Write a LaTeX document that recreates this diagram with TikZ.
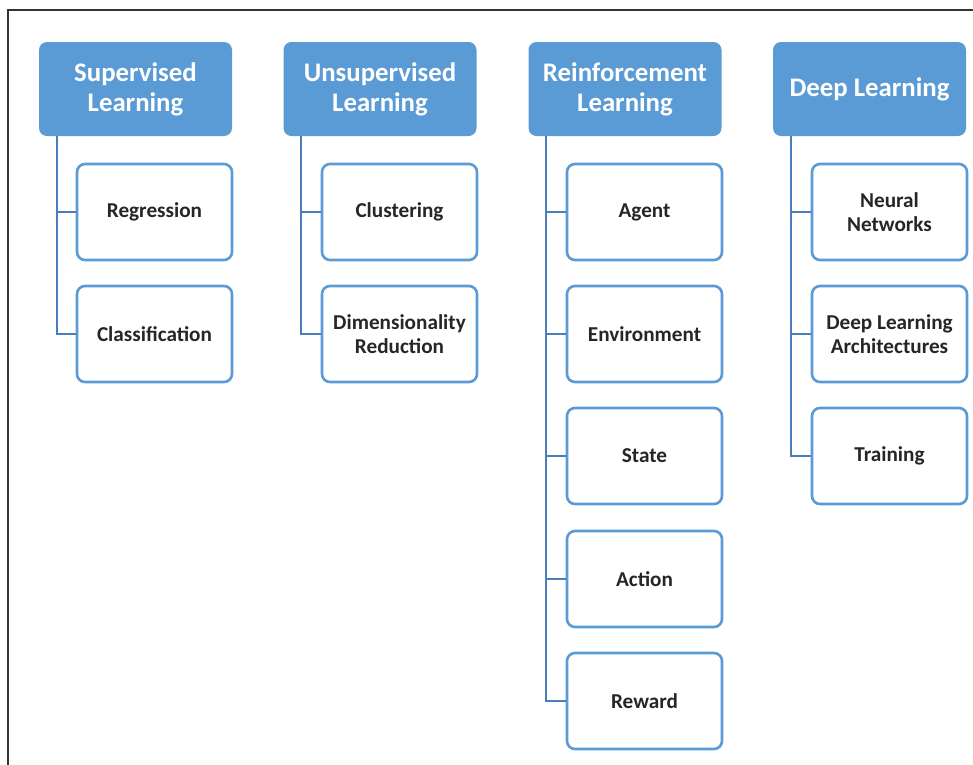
\documentclass[tikz,border=0pt]{standalone}
\usepackage{fontspec}
\setmainfont{Carlito}
\begin{document}
\begin{tikzpicture}[x=1pt,y=-1pt,
  hdr/.style={draw=none,fill=hblue,rounded corners=8pt,minimum width=193pt,minimum height=94pt,
    align=center,text=white,font=\fontsize{26.8}{30}\selectfont\bfseries,inner sep=0pt},
  child/.style={draw=hblue,line width=2.6pt,fill=white,rounded corners=8pt,minimum width=155pt,minimum height=96pt,
    align=center,text=txt,font=\fontsize{21.2}{24}\selectfont\bfseries,inner sep=0pt},
  conn/.style={draw=cblue,line width=2pt}]
\definecolor{hblue}{HTML}{5B9BD5}
\definecolor{cblue}{HTML}{4A7EBB}
\definecolor{txt}{HTML}{262626}
\definecolor{frame}{HTML}{333333}
\useasboundingbox (0,0) rectangle (973,764);
\draw[frame,line width=1.5pt] (8,770) -- (8,10) -- (980,10);

% headers
\node[hdr] (sup) at (135.5,89) {Supervised\\Learning};
\node[hdr] (uns) at (380,89) {Unsupervised\\Learning};
\node[hdr] (rei) at (625,89) {Reinforcement\\Learning};
\node[hdr] (dee) at (869.5,89) {Deep Learning};

% children
\node[child] (reg) at (154.5,212) {Regression};
\node[child] (cla) at (154.5,334) {Classification};
\node[child] (clu) at (399.5,212) {Clustering};
\node[child] (dim) at (399.5,334) {Dimensionality\\Reduction};
\node[child] (age) at (644.5,212) {Agent};
\node[child] (env) at (644.5,334) {Environment};
\node[child] (sta) at (644.5,456) {State};
\node[child] (act) at (644.5,579) {Action};
\node[child] (rew) at (644.5,701) {Reward};
\node[child] (neu) at (889.5,212) {Neural\\Networks};
\node[child] (dla) at (889.5,334) {Deep Learning\\Architectures};
\node[child] (tra) at (889.5,456) {Training};

% connectors
\foreach \h/\c in {sup/reg,sup/cla,uns/clu,uns/dim,rei/age,rei/env,rei/sta,rei/act,rei/rew,dee/neu,dee/dla,dee/tra}{
  \draw[conn] ([xshift=18pt]\h.south west) |- (\c.west);
}
\end{tikzpicture}
\end{document}
